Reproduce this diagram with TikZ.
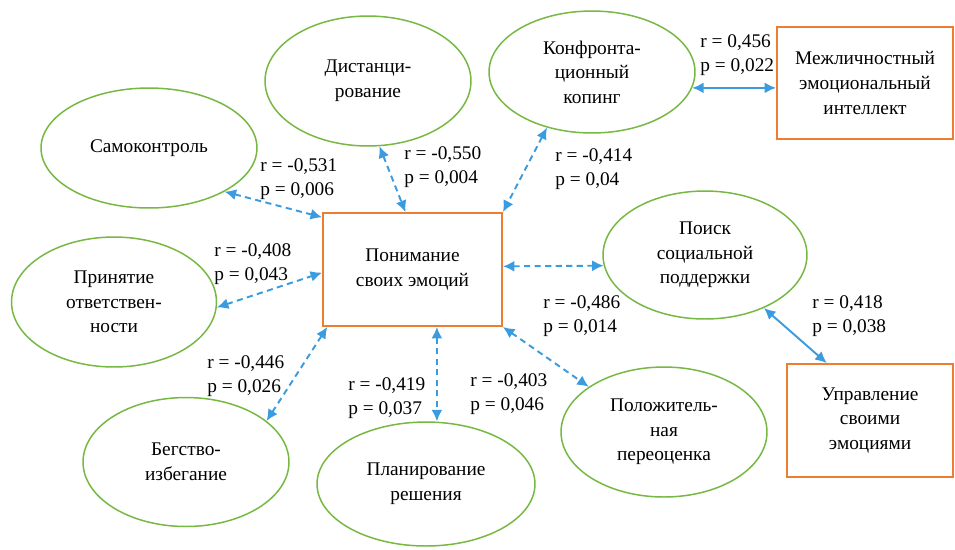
\documentclass[tikz,border=0pt]{standalone}
\usepackage{fontspec}
\setmainfont{Liberation Serif}
\usepackage{tikz}
\usetikzlibrary{positioning, calc, shapes.geometric, arrows.meta}

\definecolor{emogreen}{RGB}{118,184,66}
\definecolor{boxorange}{RGB}{237,125,49}
\definecolor{linkblue}{RGB}{58,156,222}

\tikzset{
  emo/.style={draw=emogreen, ellipse, line width=0.85pt, align=center, inner sep=0pt},
  frame/.style={draw=boxorange, rectangle, line width=1.1pt, align=center, inner sep=0pt},
  corr/.style={{Latex[length=2.3mm,width=2.2mm]}-{Latex[length=2.3mm,width=2.2mm]}, draw=linkblue, line width=1.1pt, dash pattern=on 3.5pt off 2.5pt},
  link/.style={{Latex[length=2.3mm,width=2.2mm]}-{Latex[length=2.3mm,width=2.2mm]}, draw=linkblue, line width=1.1pt},
  stat/.style={anchor=west, align=left, inner sep=0pt}
}

\begin{document}
\begin{tikzpicture}[x=0.02cm, y=-0.02cm, font=\fontsize{11}{14}\selectfont]
			\useasboundingbox (0,0) rectangle (955,549);
			% central scale and the two outer scales
			\node (pon) [frame, minimum width=3.58cm, minimum height=2.26cm] at (412.5,269.5) {Понимание\\своих эмоций};
			\node (mezh) [frame, minimum width=3.52cm, minimum height=2.24cm] at (865,83) {Межличностный\\эмоциональный\\интеллект};
			\node (upr) [frame, minimum width=3.32cm, minimum height=2.26cm] at (870,420.5) {Управление\\своими\\эмоциями};
			
			% coping strategies
			\node (sam) [emo, minimum width=4.32cm, minimum height=2.4cm] at (149,148) {Самоконтроль};
			\node (dist) [emo, minimum width=4.12cm, minimum height=2.6cm] at (368,81) {Дистанци-\\рование};
			\node (konf) [emo, minimum width=4.12cm, minimum height=2.44cm] at (592,72) {Конфронта-\\ционный\\копинг};
			\node (poisk) [emo, minimum width=4.08cm, minimum height=2.56cm] at (705,255) {Поиск\\социальной\\поддержки};
			\node (prin) [emo, minimum width=4.1cm, minimum height=2.6cm] at (114,302) {Принятие\\ответствен-\\ности};
			\node (beg) [emo, minimum width=4.12cm, minimum height=2.58cm] at (186,462) {Бегство-\\избегание};
			\node (plan) [emo, minimum width=4.36cm, minimum height=2.48cm] at (426,484) {Планирование\\решения};
			\node (pol) [emo, minimum width=4.12cm, minimum height=2.6cm] at (664,432) {Положитель-\\ная\\переоценка};
			
			\draw [corr] (sam.-30) -- (pon.150);
			\draw [corr] (dist.-80) -- (pon.97);
			\draw [corr] (konf.231) -- (pon.north east);
			\draw [corr] (prin.-3) -- (pon.182);
			\draw [corr] (pon.2) -- (poisk.186);
			\draw [corr] (beg.27) -- (pon.214);
			\draw [corr] (pon.293) -- (pon.293 |- plan.north);
			\draw [corr] (pon.south east) -- (pol.149);
			\draw [link] (konf.-9) -- (konf.-9 -| mezh.west);
			\draw [link] (poisk.-42) -- (upr.127);
			
			\node (s1) [stat] at (260,179) {r = -0,531\\p = 0,006};
			\node (s2) [stat] at (404,167) {r = -0,550\\p = 0,004};
			\node (s3) [stat] at (555,169) {r = -0,414\\p = 0,04};
			\node (s4) [stat] at (700,55) {r = 0,456\\p = 0,022};
			\node (s5) [stat] at (214,264) {r = -0,408\\p = 0,043};
			\node (s6) [stat] at (543,316) {r = -0,486\\p = 0,014};
			\node (s7) [stat] at (812,316) {r = 0,418\\p = 0,038};
			\node (s8) [stat] at (207,376) {r = -0,446\\p = 0,026};
			\node (s9) [stat] at (348,398) {r = -0,419\\p = 0,037};
			\node (s10) [stat] at (470,394) {r = -0,403\\p = 0,046};
		\end{tikzpicture}
\end{document}
